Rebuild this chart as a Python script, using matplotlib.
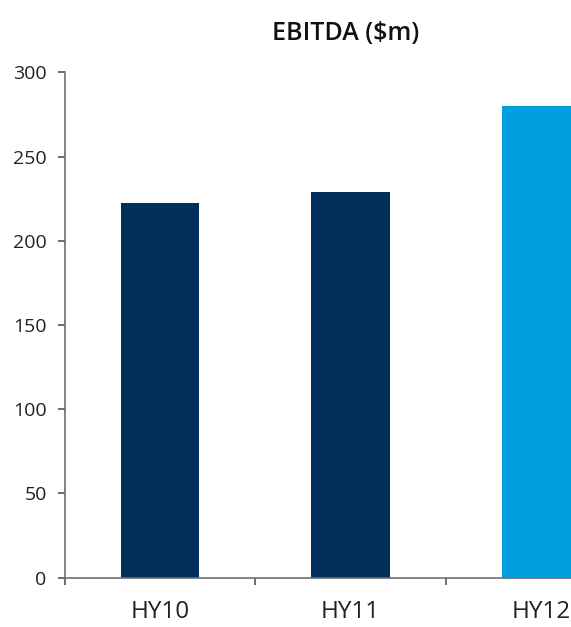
import matplotlib
matplotlib.use("Agg")
import matplotlib.pyplot as plt

# EBITDA by half-year
periods = ["HY10", "HY11", "HY12"]
ebitda = [222.5, 229, 280]
bar_colors = ["#00305a", "#00305a", "#009fdf"]
y_ticks = [0, 50, 100, 150, 200, 250, 300]

plt.rcParams["font.family"] = ["Open Sans", "DejaVu Sans"]

fig = plt.figure(figsize=(5.71, 6.27), dpi=100)
ax = fig.add_axes([0.1133, 0.0789, 1.001, 0.8057])

x = list(range(len(periods)))
ax.bar(x, ebitda, width=0.41, color=bar_colors, zorder=2)

ax.set_xlim(-0.5, 2.5)
ax.set_ylim(0, 300)
ax.set_yticks(y_ticks)

# ticks sit at the category boundaries, labels at the centres
ax.set_xticks([-0.5, 0.5, 1.5])
ax.set_xticklabels([])
ax.set_xticks(x, minor=True)
ax.set_xticklabels(periods, minor=True, fontsize=17.5, color="#222222")
ax.tick_params(axis="x", which="minor", length=0, pad=16)
ax.tick_params(axis="x", which="major", length=5, width=1.2, color="#555555", direction="out")
ax.tick_params(axis="y", length=5, width=1.2, color="#555555", direction="out",
               labelsize=14, labelcolor="#222222", pad=8)

for s in ["top", "right"]:
    ax.spines[s].set_visible(False)
for s in ["left", "bottom"]:
    ax.spines[s].set_color("#6e6e6e")
    ax.spines[s].set_linewidth(1.2)

fig.text(0.606, 0.947, "EBITDA ($m)", ha="center", va="center",
         fontsize=18, fontweight="semibold", color="#111111")

fig.savefig("out.png", dpi=100)
